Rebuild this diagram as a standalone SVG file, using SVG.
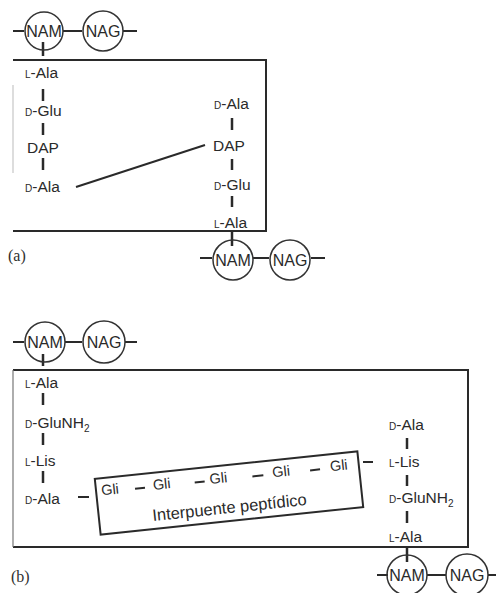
<svg xmlns="http://www.w3.org/2000/svg" width="496" height="593" viewBox="0 0 496 593">
<style>
.t{font-family:"Liberation Sans",Arial,sans-serif;font-size:15.5px;fill:#2a2a2a}
.sc{font-size:10px}
.sug{font-family:"Liberation Sans",Arial,sans-serif;font-size:16px;fill:#2a2a2a;text-anchor:middle}
.ring{fill:none;stroke:#333;stroke-width:1.5}
.b{stroke:#2a2a2a;stroke-width:2;fill:none}
.tk{stroke:#2a2a2a;stroke-width:2.5}
.fr{stroke:#2a2a2a;stroke-width:2;fill:none}
.lab{font-family:"Liberation Serif","Times New Roman",serif;font-size:16px;fill:#2f2f2f}
.gli{font-family:"Liberation Sans",Arial,sans-serif;font-size:14.5px;fill:#2a2a2a;text-anchor:middle}
</style>
<rect width="496" height="593" fill="#ffffff"/>

<g id="frames">
<path class="fr" d="M13 60 H266 V231 H13"/>
<line x1="13" y1="85" x2="13" y2="173" stroke="#bbb" stroke-width="1"/>
<path class="fr" d="M13 370 H468 V547 H13"/>
<line x1="13" y1="370" x2="13" y2="547" stroke="#777" stroke-width="1.2"/>
</g>

<g id="connectors">
<!-- (a) top glycan -->
<line class="b" x1="13" y1="31" x2="24" y2="31"/>
<line class="b" x1="63" y1="31" x2="82" y2="31"/>
<line class="b" x1="123" y1="31" x2="137" y2="31"/>
<line class="tk" x1="43" y1="42" x2="43" y2="56"/>
<!-- (a) left chain ticks -->
<line class="tk" x1="43" y1="89" x2="43" y2="101"/>
<line class="tk" x1="43" y1="123" x2="43" y2="135"/>
<line class="tk" x1="43" y1="158" x2="43" y2="170"/>
<!-- (a) right chain ticks -->
<line class="tk" x1="232" y1="118" x2="232" y2="130"/>
<line class="tk" x1="232" y1="159" x2="232" y2="170"/>
<line class="tk" x1="232" y1="196" x2="232" y2="207"/>
<line class="tk" x1="232" y1="231" x2="232" y2="246"/>
<!-- crosslink (a) -->
<line class="b" x1="76" y1="187" x2="205" y2="145"/>
<!-- (a) bottom glycan -->
<line class="b" x1="200" y1="258" x2="212" y2="258"/>
<line class="b" x1="253" y1="258" x2="269" y2="258"/>
<line class="b" x1="311" y1="258" x2="325" y2="258"/>

<!-- (b) top glycan -->
<line class="b" x1="13" y1="342" x2="24" y2="342"/>
<line class="b" x1="65" y1="342" x2="82" y2="342"/>
<line class="b" x1="125" y1="342" x2="137" y2="342"/>
<line class="tk" x1="43" y1="354" x2="43" y2="366"/>
<!-- (b) left chain ticks -->
<line class="tk" x1="43" y1="393" x2="43" y2="405"/>
<line class="tk" x1="43" y1="433" x2="43" y2="445"/>
<line class="tk" x1="43" y1="471" x2="43" y2="483"/>
<line class="b" x1="78" y1="497" x2="89" y2="497"/>
<!-- (b) right chain ticks -->
<line class="b" x1="363" y1="462" x2="373" y2="462"/>
<line class="tk" x1="407" y1="438" x2="407" y2="449"/>
<line class="tk" x1="407" y1="475" x2="407" y2="486"/>
<line class="tk" x1="407" y1="511" x2="407" y2="523"/>
<line class="tk" x1="407" y1="548" x2="407" y2="562"/>
<!-- (b) bottom glycan -->
<line class="b" x1="377" y1="575" x2="388" y2="575"/>
<line class="b" x1="427" y1="575" x2="446" y2="575"/>
<line class="b" x1="488" y1="575" x2="497" y2="575"/>
</g>

<!-- (a) glycans -->
<g id="nam-a-top"><circle class="ring" cx="44" cy="31" r="19"/><text class="sug" x="44" y="37">NAM</text></g>
<g id="nag-a-top"><circle class="ring" cx="103" cy="31" r="20"/><text class="sug" x="103" y="37">NAG</text></g>
<g id="nam-a-bot"><circle class="ring" cx="233" cy="260" r="20"/><text class="sug" x="233" y="266">NAM</text></g>
<g id="nag-a-bot"><circle class="ring" cx="290" cy="260" r="20"/><text class="sug" x="290" y="266">NAG</text></g>

<!-- (a) left peptide -->
<g id="a-l-ala1"><text class="t" x="25" y="78"><tspan class="sc">L</tspan>-Ala</text></g>
<g id="a-d-glu1"><text class="t" x="25" y="116"><tspan class="sc">D</tspan>-Glu</text></g>
<g id="a-dap1"><text class="t" x="27" y="153">DAP</text></g>
<g id="a-d-ala1"><text class="t" x="25" y="192"><tspan class="sc">D</tspan>-Ala</text></g>
<!-- (a) right peptide -->
<g id="a-d-ala2"><text class="t" x="214" y="109"><tspan class="sc">D</tspan>-Ala</text></g>
<g id="a-dap2"><text class="t" x="213" y="151">DAP</text></g>
<g id="a-d-glu2"><text class="t" x="214" y="190"><tspan class="sc">D</tspan>-Glu</text></g>
<g id="a-l-ala2"><text class="t" x="214" y="228"><tspan class="sc">L</tspan>-Ala</text></g>
<text class="lab" x="8" y="261">(a)</text>

<!-- (b) glycans -->
<g id="nam-b-top"><circle class="ring" cx="45" cy="342" r="20"/><text class="sug" x="45" y="348">NAM</text></g>
<g id="nag-b-top"><circle class="ring" cx="104" cy="342" r="21"/><text class="sug" x="104" y="348">NAG</text></g>
<g id="nam-b-bot"><circle class="ring" cx="407" cy="575" r="20"/><text class="sug" x="407" y="581">NAM</text></g>
<g id="nag-b-bot"><circle class="ring" cx="467" cy="575" r="21"/><text class="sug" x="467" y="581">NAG</text></g>

<!-- (b) left peptide -->
<g id="b-l-ala1"><text class="t" x="25" y="388"><tspan class="sc">L</tspan>-Ala</text></g>
<g id="b-d-glunh2-1"><text class="t" x="25" y="428"><tspan class="sc">D</tspan>-GluNH<tspan font-size="10" dy="4">2</tspan></text></g>
<g id="b-l-lis1"><text class="t" x="25" y="466"><tspan class="sc">L</tspan>-Lis</text></g>
<g id="b-d-ala1"><text class="t" x="25" y="504"><tspan class="sc">D</tspan>-Ala</text></g>
<!-- (b) right peptide -->
<g id="b-d-ala2"><text class="t" x="389" y="430"><tspan class="sc">D</tspan>-Ala</text></g>
<g id="b-l-lis2"><text class="t" x="389" y="467"><tspan class="sc">L</tspan>-Lis</text></g>
<g id="b-d-glunh2-2"><text class="t" x="389" y="503"><tspan class="sc">D</tspan>-GluNH<tspan font-size="10" dy="4">2</tspan></text></g>
<g id="b-l-ala2"><text class="t" x="389" y="542"><tspan class="sc">L</tspan>-Ala</text></g>

<!-- interbridge -->
<g id="interpuente" transform="rotate(-6 229 493)">
<rect x="97" y="465" width="264" height="56" fill="none" stroke="#2a2a2a" stroke-width="2"/>
<text class="gli" x="111" y="482">Gli</text>
<text class="gli" x="163" y="482">Gli</text>
<text class="gli" x="220" y="482">Gli</text>
<text class="gli" x="283" y="482">Gli</text>
<text class="gli" x="341" y="482">Gli</text>
<line class="b" x1="136" y1="479" x2="146" y2="479"/>
<line class="b" x1="196" y1="479" x2="206" y2="479"/>
<line class="b" x1="254" y1="479" x2="265" y2="479"/>
<line class="b" x1="312" y1="479" x2="322" y2="479"/>
<text x="228" y="513" text-anchor="middle" font-family="Liberation Sans, Arial, sans-serif" font-size="16.5" fill="#2a2a2a">Interpuente peptídico</text>
</g>
<text class="lab" x="11" y="582">(b)</text>
</svg>
